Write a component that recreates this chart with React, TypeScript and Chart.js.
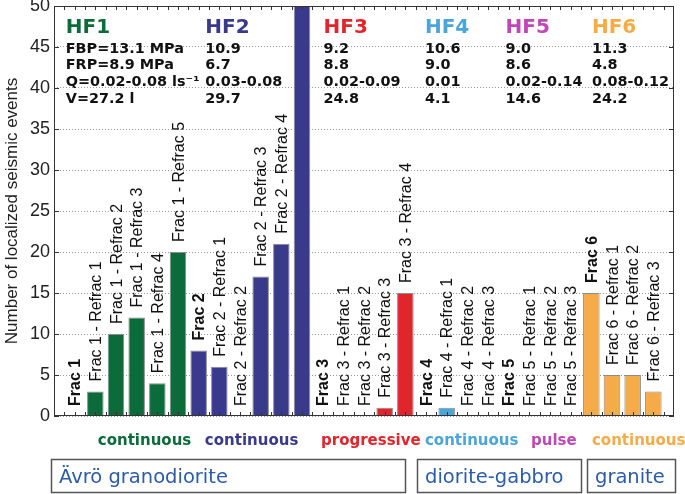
import React, { useEffect, useRef } from "react";
import { Chart, registerables } from "chart.js";

Chart.register(...registerables);

// ---- data ----
const categories = [
  "Frac 1", "Frac 1 - Refrac 1", "Frac 1 - Refrac 2", "Frac 1 - Refrac 3", "Frac 1 - Refrac 4", "Frac 1 - Refrac 5",
  "Frac 2", "Frac 2 - Refrac 1", "Frac 2 - Refrac 2", "Frac 2 - Refrac 3", "Frac 2 - Refrac 4", "",
  "Frac 3", "Frac 3 - Refrac 1", "Frac 3 - Refrac 2", "Frac 3 - Refrac 3", "Frac 3 - Refrac 4",
  "Frac 4", "Frac 4 - Refrac 1", "Frac 4 - Refrac 2", "Frac 4 - Refrac 3",
  "Frac 5", "Frac 5 - Refrac 1", "Frac 5 - Refrac 2", "Frac 5 - Refrac 3",
  "Frac 6", "Frac 6 - Refrac 1", "Frac 6 - Refrac 2", "Frac 6 - Refrac 3",
];
const eventCounts = [
  0, 3, 10, 12, 4, 20,
  8, 6, 0, 17, 21, 50,
  0, 0, 0, 1, 15,
  0, 1, 0, 0,
  0, 0, 0, 0,
  15, 5, 5, 3,
];
const categoryGroup = [
  0, 0, 0, 0, 0, 0,
  1, 1, 1, 1, 1, 1,
  2, 2, 2, 2, 2,
  3, 3, 3, 3,
  4, 4, 4, 4,
  5, 5, 5, 5,
];
const hfNames = ["HF1", "HF2", "HF3", "HF4", "HF5", "HF6"];
const fbpText = ["FBP=13.1 MPa", "10.9", "9.2", "10.6", "9.0", "11.3"];
const frpText = ["FRP=8.9 MPa", "6.7", "8.8", "9.0", "8.6", "4.8"];
const flowText = ["Q=0.02-0.08 ls\u207B\u00B9", "0.03-0.08", "0.02-0.09", "0.01", "0.02-0.14", "0.08-0.12"];
const volumeText = ["V=27.2 l", "29.7", "24.8", "4.1", "14.6", "24.2"];
const injectionStyle = ["continuous", "continuous", "progressive", "continuous", "pulse", "continuous"];
const rockTypes = ["Ävrö granodiorite", "diorite-gabbro", "granite"];
const yTicks = [0, 5, 10, 15, 20, 25, 30, 35, 40, 45, 50];

// ---- layout / style ----
const groupColors = ["#0b6b3a", "#393a8c", "#e1262b", "#4aa6d9", "#c048b4", "#f5ac48"];
const hfColumnX = [0.57, 7.32, 13.04, 17.95, 21.85, 26.03]; // x-scale units
const injectionX = [2.12, 7.3, 12.92, 17.95, 23.08, 26.03]; // x-scale units
const hfRowY = [33, 52.5, 69, 86, 103];
const rockBoxes = [
  [51, 405],
  [417, 581],
  [587, 675],
];

const annotationPlugin = {
  id: "annotations",
  afterDraw(chart: any) {
    const ctx: CanvasRenderingContext2D = chart.ctx;
    const ca = chart.chartArea;
    const xs = chart.scales.x;
    const ys = chart.scales.y;
    ctx.save();

    // frame
    ctx.strokeStyle = "#333";
    ctx.lineWidth = 1;
    ctx.setLineDash([]);
    ctx.strokeRect(Math.round(ca.left) + 0.5, Math.round(ca.top) + 0.5, Math.round(ca.right - ca.left) - 1, Math.round(ca.bottom - ca.top) - 1);

    // inward ticks
    ctx.beginPath();
    for (let v = 0.5; v < 30; v += 0.5) {
      const px = Math.round(xs.getPixelForValue(v)) + 0.5;
      ctx.moveTo(px, ca.bottom);
      ctx.lineTo(px, ca.bottom - 4);
      ctx.moveTo(px, ca.top);
      ctx.lineTo(px, ca.top + 4);
    }
    for (const v of yTicks) {
      const py = Math.round(ys.getPixelForValue(v)) + 0.5;
      ctx.moveTo(ca.left, py);
      ctx.lineTo(ca.left + 5, py);
      ctx.moveTo(ca.right, py);
      ctx.lineTo(ca.right - 5, py);
    }
    ctx.stroke();

    // rotated bar labels
    const meta = chart.getDatasetMeta(0);
    const zeroY = ys.getPixelForValue(0);
    ctx.fillStyle = "#111";
    categories.forEach((label, i) => {
      if (!label) return;
      const el = meta.data[i];
      const bold = label.indexOf("-") < 0;
      ctx.font = `${bold ? "bold " : ""}16px "Liberation Sans", Arial, sans-serif`;
      const yStart = Math.min(el.y, zeroY) - 10;
      ctx.save();
      ctx.translate(el.x + 5.5, yStart);
      ctx.rotate(-Math.PI / 2);
      ctx.textAlign = "left";
      ctx.textBaseline = "alphabetic";
      ctx.fillText(label, 0, 0);
      ctx.restore();
    });

    // HF parameter columns
    ctx.textAlign = "left";
    ctx.textBaseline = "alphabetic";
    hfNames.forEach((name, k) => {
      const x = xs.getPixelForValue(hfColumnX[k]);
      ctx.fillStyle = groupColors[k];
      ctx.font = 'bold 20px "DejaVu Sans", Verdana, sans-serif';
      ctx.fillText(name, x, hfRowY[0]);
      ctx.fillStyle = "#111";
      ctx.font = 'bold 14.4px "DejaVu Sans", Verdana, sans-serif';
      ctx.fillText(fbpText[k], x, hfRowY[1]);
      ctx.fillText(frpText[k], x, hfRowY[2]);
      ctx.fillText(flowText[k], x, hfRowY[3]);
      ctx.fillText(volumeText[k], x, hfRowY[4]);
    });

    // injection style labels
    ctx.font = 'bold 15px "DejaVu Sans", Verdana, sans-serif';
    injectionStyle.forEach((s, k) => {
      ctx.fillStyle = groupColors[k];
      ctx.fillText(s, xs.getPixelForValue(injectionX[k]), 445);
    });

    // rock type boxes
    ctx.font = '19.5px "DejaVu Sans", Verdana, sans-serif';
    rockTypes.forEach((r, k) => {
      const [x0, x1] = rockBoxes[k];
      ctx.strokeStyle = "#555";
      ctx.lineWidth = 1.5;
      ctx.strokeRect(x0 + 0.5, 459.5, x1 - x0, 33);
      ctx.fillStyle = "#2c5ba8";
      ctx.fillText(r, x0 + 8, 483);
    });

    ctx.restore();
  },
};

export default function App() {
  const ref = useRef<HTMLCanvasElement>(null);
  useEffect(() => {
    document.body.style.margin = "0";
    const canvas = ref.current!;
    const points = eventCounts.map((v, i) => ({ x: i + 1, y: v }));
    const chart = new Chart(canvas, {
      type: "bar",
      data: {
        datasets: [
          {
            data: points as any,
            backgroundColor: categoryGroup.map((g) => groupColors[g]),
            borderColor: "#8c8c8c",
            borderWidth: ((c: any) => (eventCounts[c.dataIndex] > 0 ? 1 : 0)) as any,
            barPercentage: 0.8,
            categoryPercentage: 1,
          },
        ],
      },
      options: {
        responsive: false,
        animation: false,
        layout: { padding: { left: 0, top: 6, right: 11, bottom: 0 } },
        plugins: { legend: { display: false }, tooltip: { enabled: false } },
        scales: {
          x: {
            type: "linear",
            min: 0,
            max: 30,
            offset: false,
            ticks: { display: false },
            grid: { display: false, offset: false },
            border: { display: false },
            afterFit: (s: any) => {
              s.height = 78;
              s.paddingLeft = 0;
              s.paddingRight = 0;
            },
          },
          y: {
            min: 0,
            max: 50,
            ticks: {
              stepSize: 5,
              padding: 4,
              color: "#222",
              font: { family: '"Liberation Sans", Arial, sans-serif', size: 18 },
            },
            grid: { color: "#999", lineWidth: 1, drawTicks: false },
            border: { display: false, dash: [1, 2] },
            title: {
              display: true,
              text: "Number of localized seismic events",
              color: "#222",
              font: { family: '"Liberation Sans", Arial, sans-serif', size: 17 },
              padding: { top: 2, bottom: 0 },
            },
            afterFit: (s: any) => {
              s.width = 54;
              s.paddingTop = 0;
              s.paddingBottom = 0;
            },
          },
        },
      },
      plugins: [annotationPlugin],
    });
    return () => chart.destroy();
  }, []);
  return (
    <div style={{ width: 685, height: 494 }}>
      <canvas ref={ref} width={685} height={494} />
    </div>
  );
}
